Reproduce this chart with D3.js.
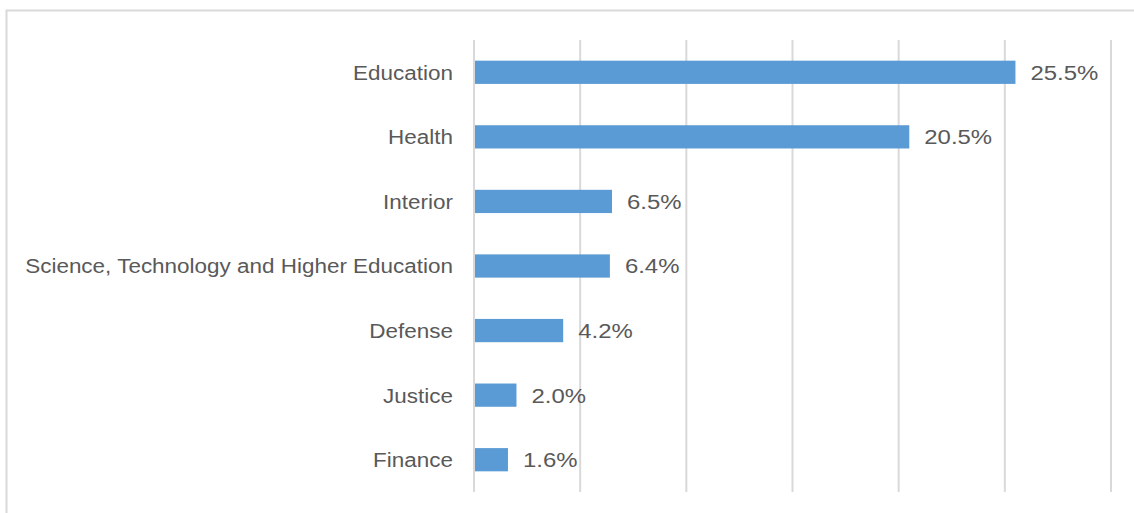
<!DOCTYPE html>
<html><head><meta charset="utf-8">
<script src="https://cdn.jsdelivr.net/npm/d3@7"></script>
<style>body{margin:0;background:#fff;}svg{display:block;}</style>
</head><body>
<svg id="chart" width="1134" height="513"></svg>
<script>
const categories = ["Education","Health","Interior","Science, Technology and Higher Education","Defense","Justice","Finance"];
const values = [25.5,20.5,6.5,6.4,4.2,2.0,1.6];
const xTicks = [0,5,10,15,20,25,30];

const svg = d3.select("#chart");
svg.append("rect").attr("x",6.5).attr("y",10.5).attr("width",1140).attr("height",520)
  .attr("fill","#fff").attr("stroke","#d9d9d9").attr("stroke-width",2);

const x = d3.scaleLinear().domain([0,30]).range([474,1111]);
const y = d3.scaleBand().domain(categories).range([40,492]).paddingInner(0.64).paddingOuter(0.32);

svg.append("g").selectAll("line").data(xTicks).join("line")
  .attr("x1",d=>x(d)).attr("x2",d=>x(d)).attr("y1",40).attr("y2",492)
  .attr("stroke","#d9d9d9").attr("stroke-width",2);

svg.append("g").selectAll("rect").data(values).join("rect")
  .attr("x",x(0)+1).attr("y",(d,i)=>y(categories[i]))
  .attr("width",d=>x(d)-x(0)-1).attr("height",y.bandwidth())
  .attr("fill","#5b9bd5");

const font = "'Liberation Sans', Arial, sans-serif";
svg.append("g").selectAll("text").data(categories).join("text")
  .attr("transform",d=>`translate(453,${y(d)+y.bandwidth()/2}) scale(1.07,1)`)
  .attr("dy","0.35em")
  .attr("text-anchor","end").attr("font-family",font).attr("font-size",21)
  .attr("fill","#595959").text(d=>d);

svg.append("g").selectAll("text").data(values).join("text")
  .attr("transform",(d,i)=>`translate(${x(d)+15},${y(categories[i])+y.bandwidth()/2}) scale(1.14,1)`)
  .attr("dy","0.35em")
  .attr("font-family",font).attr("font-size",21)
  .attr("fill","#595959").text(d=>d.toFixed(1)+"%");
</script>
</body></html>
